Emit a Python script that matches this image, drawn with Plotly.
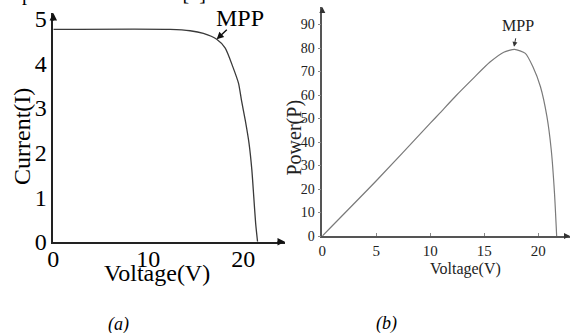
import plotly.graph_objects as go

# ---------------- data ----------------
# (a) I-V curve
volt_a = [0, 12.3, 14.4, 15.8, 17.2, 18.1, 18.9, 19.5, 19.8, 20.2, 20.6, 20.9, 21.1, 21.3, 21.5]
curr_a = [4.76, 4.76, 4.73, 4.67, 4.54, 4.34, 3.92, 3.55, 3.18, 2.73, 2.21, 1.61, 1.01, 0.41, 0.0]
xticks_a = [0, 10, 20]
yticks_a = [0, 1, 2, 3, 4, 5]
mpp_a = (17.2, 4.54)

# (b) P-V curve
volt_b = [0, 5, 10, 10.9, 12.4, 14.0, 15.5, 16.8, 17.8, 18.8, 19.5, 20.2, 20.8, 21.2, 21.5, 21.7]
power_b = [0, 23.5, 48.0, 52.4, 59.8, 67.2, 73.9, 78.2, 79.4, 77.7, 72.0, 63.5, 50.8, 36.6, 18.2, 0.0]
xticks_b = [0, 5, 10, 15, 20]
yticks_b = [0, 10, 20, 30, 40, 50, 60, 70, 80, 90]
mpp_b = (17.75, 80.5)

# ---------------- layout helpers ----------------
W, H = 571, 333
SERIF = "Liberation Serif, Times New Roman, serif"


def px(p):
    return p / W


def py(p):
    return (H - p) / H


# panel a geometry (pixels)
a_x0, a_x1, a_sx = 53.3, 285.0, 9.5
a_y0, a_y1, a_sy = 241.7, 13.0, 44.6
# panel b geometry
b_x0, b_x1, b_sx = 322.3, 570.0, 10.8
b_y0, b_y1, b_sy = 236.0, 7.0, 2.35

fig = go.Figure()
fig.add_trace(go.Scatter(
    x=volt_a, y=curr_a, xaxis="x", yaxis="y", mode="lines",
    line=dict(color="#3a3a3a", width=1.3, shape="spline", smoothing=0.6),
    showlegend=False, hoverinfo="skip"))
fig.add_trace(go.Scatter(
    x=volt_b, y=power_b, xaxis="x2", yaxis="y2", mode="lines",
    line=dict(color="#7a7a7a", width=1.2, shape="spline", smoothing=0.6),
    showlegend=False, hoverinfo="skip"))

axis_common = dict(showgrid=False, zeroline=False, showline=True, mirror=False,
                   automargin=False)

fig.update_layout(
    width=W, height=H, margin=dict(l=0, r=0, t=0, b=0, autoexpand=False),
    paper_bgcolor="white", plot_bgcolor="white", showlegend=False,
    font=dict(family=SERIF, color="black"),
    xaxis=dict(domain=[px(a_x0), px(a_x1)], range=[0, (a_x1 - a_x0) / a_sx],
               tickvals=xticks_a, ticks="", linecolor="#222", linewidth=1.5,
               tickfont=dict(size=24, family=SERIF, color="black"), anchor="y",
               ticklabelstandoff=-5, **axis_common),
    yaxis=dict(domain=[py(a_y0), py(a_y1)], range=[0, (a_y0 - a_y1) / a_sy],
               tickvals=yticks_a, ticks="", linecolor="#222", linewidth=1.5,
               tickfont=dict(size=24, family=SERIF, color="black"), anchor="x",
               **axis_common),
    xaxis2=dict(domain=[px(b_x0), px(b_x1)], range=[0, (b_x1 - b_x0) / b_sx],
                tickvals=xticks_b, ticks="inside", ticklen=3, tickcolor="#888",
                linecolor="#555", linewidth=1.5,
                tickfont=dict(size=15, family=SERIF, color="#222"), anchor="y2",
                **axis_common),
    yaxis2=dict(domain=[py(b_y0), py(b_y1)], range=[0, (b_y0 - b_y1) / b_sy],
                tickvals=yticks_b, ticks="outside", ticklen=3, tickcolor="#888",
                linecolor="#555", linewidth=1.5,
                tickfont=dict(size=14, family=SERIF, color="#222"), anchor="x2",
                **axis_common),
)

ann = []


def text(x, y, s, size, angle=0, color="black"):
    ann.append(dict(xref="paper", yref="paper", x=px(x), y=py(y), text=s,
                    showarrow=False, xanchor="center", yanchor="middle",
                    textangle=angle, font=dict(family=SERIF, size=size, color=color)))


def arrow_paper(x, y, ax, ay, color, width, size=1.0):
    ann.append(dict(xref="paper", yref="paper", x=px(x), y=py(y), ax=ax, ay=ay,
                    text="", showarrow=True, arrowhead=2, arrowsize=size,
                    arrowwidth=width, arrowcolor=color))


# panel a texts
text(22, 137, "Current(I)", 24, angle=-90)
text(156.7, 273, "Voltage(V)", 24)
text(240, 18, "MPP", 24)
text(118, 324, "<i>(a)</i>", 18)
# panel b texts
text(294, 137.5, "Power(P)", 20, angle=-90, color="#222")
text(465, 269, "Voltage(V)", 16, color="#222")
text(517.5, 25.5, "MPP", 16, color="#222")
text(386.7, 323, "<i>(b)</i>", 18)
# clipped line of body text at the top
ann.append(dict(xref="paper", yref="paper", x=px(213), y=py(-6), xanchor="right",
                yanchor="middle", text="p o w e r  reduction [5].", showarrow=False,
                font=dict(family=SERIF, size=20, color="black")))

# axis arrows
arrow_paper(a_x1, a_y0, -9, 0, "#111", 1.5)
arrow_paper(a_x0, a_y1, 0, 9, "#111", 1.5)
arrow_paper(b_x1, b_y0, -7, 0, "#333", 1.2)
arrow_paper(b_x0, b_y1, 0, 7, "#333", 1.2)

# MPP arrows
ann.append(dict(xref="x", yref="y", x=mpp_a[0], y=mpp_a[1], ax=11.6, ay=-11,
                text="", showarrow=True, arrowhead=2, arrowsize=1,
                arrowwidth=1.4, arrowcolor="#111"))
ann.append(dict(xref="x2", yref="y2", x=mpp_b[0], y=mpp_b[1], ax=2, ay=-10,
                text="", showarrow=True, arrowhead=2, arrowsize=1,
                arrowwidth=1.0, arrowcolor="#333"))

fig.update_layout(annotations=ann)
fig.write_html("out.html")
